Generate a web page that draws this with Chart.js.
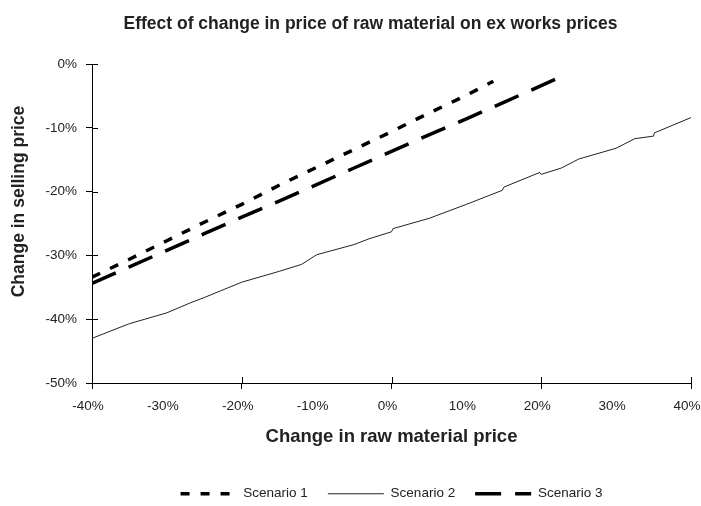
<!DOCTYPE html>
<html><head><meta charset="utf-8">
<script src="https://cdn.jsdelivr.net/npm/chart.js@4/dist/chart.umd.min.js"></script>
<style>html,body{margin:0;padding:0;background:#fff}#wrap{width:701px;height:506px}</style>
</head><body><div id="wrap"><canvas id="c" width="701" height="506"></canvas></div>
<script>
const chartTitle = 'Effect of change in price of raw material on ex works prices';
const xAxisTitle = 'Change in raw material price';
const yAxisTitle = 'Change in selling price';
const seriesNames = ['Scenario 1', 'Scenario 2', 'Scenario 3'];
const xTickValues = [-40, -30, -20, -10, 0, 10, 20, 30, 40];
const xMajorTicks = [-40, -20, 0, 20, 40];
const yTickValues = [-50, -40, -30, -20, -10, 0];

// Scenario 1 (short dashes)
const s1X = [-40, -35, -30, -25, -20, -15, -10, -5, 0, 5, 10, 13.6];
const s1Y = [-33.4, -30.6, -27.7, -24.8, -22.0, -19.0, -16.2, -13.4, -10.6, -7.7, -4.9, -2.7];
// Scenario 2 (thin solid)
const s2X = [-40, -35, -30, -27, -25, -20, -15, -12, -10, -5, -3, 0, 0.2, 5, 10, 14.8, 15, 19.8, 20, 22.7, 25, 30, 32.5, 35, 35.1, 40];
const s2Y = [-43.0, -40.7, -39.0, -37.5, -36.6, -34.2, -32.5, -31.4, -29.9, -28.3, -27.4, -26.3, -25.8, -24.2, -22.0, -19.8, -19.3, -17.0, -17.3, -16.3, -14.9, -13.2, -11.7, -11.3, -10.8, -8.4];
// Scenario 3 (long dashes)
const s3X = [-40, -35, -30, -25, -20, -15, -10, -5, 0, 5, 10, 15, 20, 23.4];
const s3Y = [-34.4, -31.8, -29.2, -26.6, -24.0, -21.5, -18.9, -16.3, -13.7, -11.1, -8.6, -6.0, -3.4, -1.6];

const toPts = (xs, ys) => xs.map((x, i) => ({x: x, y: ys[i]}));

Chart.defaults.font.family = '"Liberation Sans", Arial, sans-serif';
Chart.defaults.color = '#222';

const innerTicks = {
  id: 'innerTicks',
  afterDatasetsDraw(chart) {
    const {ctx, chartArea, scales: {x, y}} = chart;
    ctx.save();
    ctx.strokeStyle = '#000';
    ctx.lineWidth = 1;
    ctx.beginPath();
    xMajorTicks.forEach(v => {
      const px = Math.round(x.getPixelForValue(v)) + 0.5;
      ctx.moveTo(px, chartArea.bottom);
      ctx.lineTo(px, chartArea.bottom - 6);
    });
    yTickValues.forEach(v => {
      const py = Math.round(y.getPixelForValue(v)) + 0.5;
      ctx.moveTo(chartArea.left, py);
      ctx.lineTo(chartArea.left + 6, py);
    });
    ctx.stroke();
    // y axis title
    ctx.fillStyle = '#222';
    ctx.font = 'bold 17.5px "Liberation Sans", Arial, sans-serif';
    ctx.textAlign = 'center';
    ctx.textBaseline = 'middle';
    ctx.translate(19, chartArea.top + (chartArea.bottom - chartArea.top) * 0.431);
    ctx.rotate(-Math.PI / 2);
    ctx.fillText(yAxisTitle, 0, 0);
    ctx.restore();
  }
};

new Chart(document.getElementById('c'), {
  type: 'scatter',
  data: {
    datasets: [
      {label: seriesNames[0], data: toPts(s1X, s1Y), showLine: true, borderColor: '#000', backgroundColor: '#000',
       borderWidth: 3.5, borderDash: [9, 11], pointRadius: 0, tension: 0},
      {label: seriesNames[1], data: toPts(s2X, s2Y), showLine: true, borderColor: '#222', backgroundColor: '#222',
       borderWidth: 1, pointRadius: 0, tension: 0},
      {label: seriesNames[2], data: toPts(s3X, s3Y), showLine: true, borderColor: '#000', backgroundColor: '#000',
       borderWidth: 3.5, borderDash: [26, 14], pointRadius: 0, tension: 0}
    ]
  },
  options: {
    responsive: false,
    animation: false,
    devicePixelRatio: 1,
    layout: {padding: {left: 40, right: 0, top: 0, bottom: 0}},
    plugins: {
      title: {display: true, text: chartTitle, color: '#222',
        font: {size: 17.5, weight: 'bold'}, padding: {top: 14, bottom: 29}},
      legend: {
        position: 'bottom', fullSize: false, maxHeight: 39,
        labels: {usePointStyle: true, pointStyle: 'line', pointStyleWidth: 56, padding: 20,
          color: '#222', font: {size: 13.5},
          generateLabels: chart => chart.data.datasets.map((ds, i) => ({
            text: ds.label, datasetIndex: i, hidden: false,
            fillStyle: ds.borderColor, strokeStyle: ds.borderColor, fontColor: '#222',
            lineWidth: ds.borderWidth, lineDash: ds.borderDash || [], lineCap: 'butt',
            pointStyle: 'line'
          }))}
      },
      tooltip: {enabled: false}
    },
    scales: {
      x: {
        type: 'linear', min: -40, max: 40,
        afterBuildTicks: s => { s.ticks = xTickValues.map(v => ({value: v})); },
        afterFit: s => { s.height = 84; s.paddingRight = 10; s.paddingLeft = 0; },
        ticks: {callback: v => v + '%', color: '#222', font: {size: 13.5}, padding: 9, labelOffset: -4, maxRotation: 0, autoSkip: false},
        grid: {drawOnChartArea: false, drawTicks: true, tickLength: 6,
          tickColor: c => (c.tick && c.tick.value % 20 === 0) ? '#000' : 'rgba(0,0,0,0)'},
        border: {display: true, color: '#000', width: 1},
        title: {display: true, text: xAxisTitle, color: '#222', font: {size: 18.5, weight: 'bold'}, padding: {top: 0, bottom: 19}}
      },
      y: {
        type: 'linear', min: -50, max: 0,
        afterBuildTicks: s => { s.ticks = yTickValues.map(v => ({value: v})); },
        afterFit: s => { s.width = 52; },
        ticks: {callback: v => v + '%', color: '#222', font: {size: 13.5}, padding: 9},
        grid: {drawOnChartArea: false, drawTicks: true, tickLength: 6, tickColor: '#000'},
        border: {display: true, color: '#000', width: 1}
      }
    }
  },
  plugins: [innerTicks]
});
</script>
</body></html>
